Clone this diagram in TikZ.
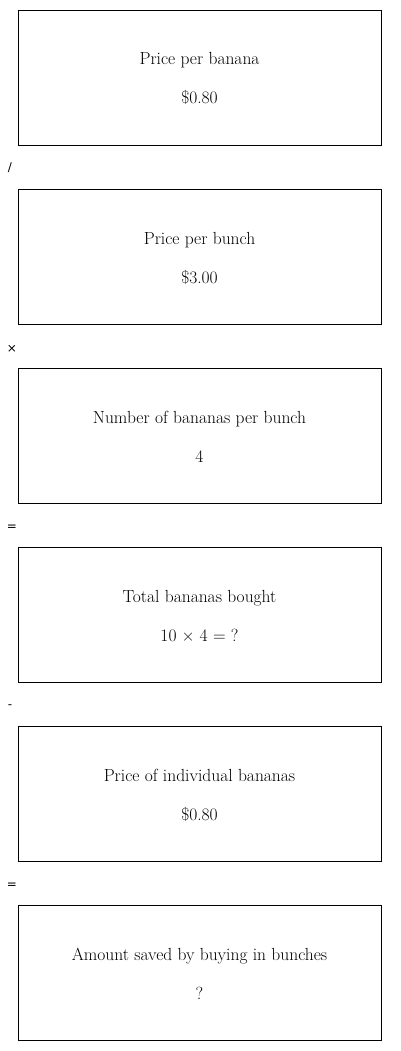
\documentclass[tikz,border=0pt]{standalone}
\usepackage{fontspec}
\newfontfamily\opfont{DejaVu Sans}
\begin{document}
\begin{tikzpicture}[x=1pt,y=-1pt,
  box/.style={draw=black, line width=1pt, minimum width=363pt, minimum height=135pt, inner sep=0pt},
  txt/.style={font=\fontsize{17.5}{20}\selectfont, inner sep=0pt, anchor=base},
  op/.style={font=\opfont\fontsize{12}{14}\selectfont, inner sep=0pt}]
\useasboundingbox (0,0) rectangle (400,1051);
\foreach \i/\a/\b in {0/Price per banana/\$0.80,
                      1/Price per bunch/\$3.00,
                      2/Number of bananas per bunch/4,
                      3/Total bananas bought/{10 × 4 = ?},
                      4/Price of individual bananas/\$0.80,
                      5/Amount saved by buying in bunches/?}{
  \node[box] (b\i) at (199.5, 78+179*\i) {};
  \node[txt] (t\i) at (199.5, 65+179*\i) {\a};
  \node[txt] (v\i) at (199.5, 104+179*\i) {\b};
}
\node[op] (o1) at (10,168) {/};
\node[op] (o2) at (12,349) {×};
\node[op] (o3) at (12,528) {=};
\node[op] (o4) at (10,707) {-};
\node[op] (o5) at (12,886) {=};
\end{tikzpicture}
\end{document}
